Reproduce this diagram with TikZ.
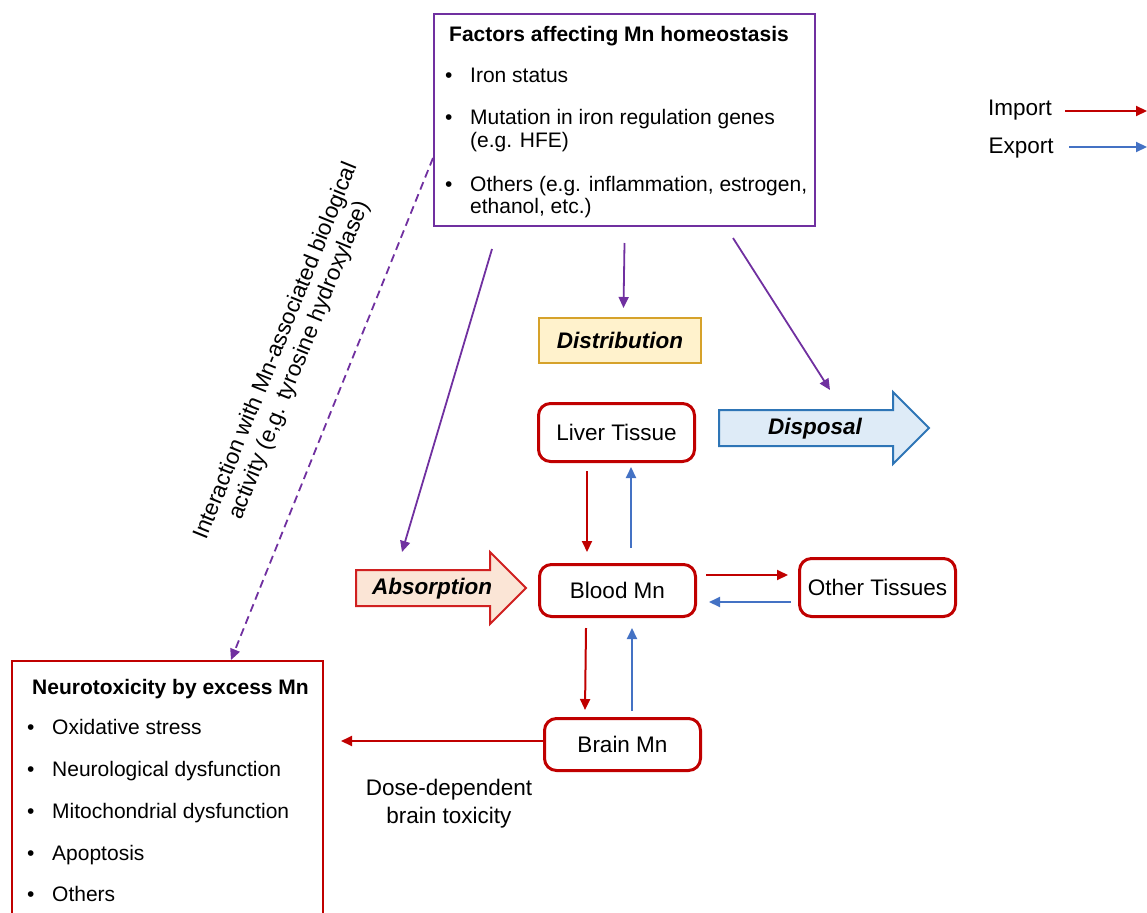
\documentclass[tikz,border=0pt]{standalone}
\usepackage{fontspec}
\setmainfont{Liberation Sans}
\usetikzlibrary{arrows.meta,shapes.arrows,calc}

\begin{document}
\begin{tikzpicture}[x=1pt,y=1pt,yscale=-1,xscale=1,
  mnhead/.style={-{Triangle[length=11pt,width=10pt]}},
  inflow/.style={mnhead, color={rgb, 255:red, 192; green, 0; blue, 0 }, line width=2pt},
  outflow/.style={mnhead, color={rgb, 255:red, 68; green, 114; blue, 196 }, line width=2pt},
  factorarrow/.style={mnhead, color={rgb, 255:red, 112; green, 48; blue, 160 }, line width=1.8pt},
  pool/.style={draw={rgb, 255:red, 192; green, 0; blue, 0 }, line width=3pt, rounded corners=12pt,
    minimum width=156pt, minimum height=52pt, font=\fontsize{22.5}{27}\selectfont},
  listtxt/.style={anchor=west, inner sep=0pt, text height=18pt, text depth=2pt, font=\fontsize{21}{25}\selectfont},
  bigarrow/.style={single arrow, single arrow head extend=18pt, line width=2pt, anchor=west,
    inner xsep=6pt, inner ysep=7pt, text height=16pt, text depth=4pt,
    font=\fontsize{22.5}{27}\selectfont\bfseries\itshape}
]
\useasboundingbox (0,0) rectangle (1147,912);

%Factors box
\node [draw={rgb, 255:red, 112; green, 48; blue, 160 }, line width=2pt, minimum width=381pt,
  minimum height=212pt, anchor=north west] (factors) at (433,13) {};
\node [font=\fontsize{21}{25}\selectfont\bfseries] (factorstitle) at (619,36) {Factors affecting Mn homeostasis};
\foreach \y in {75,117,183}
  \node [listtxt] (fb\y) at (445,\y) {\textbullet};
\node [listtxt] (iron) at (470,75) {Iron status};
\node [listtxt] (mutation) at (470,117) {Mutation in iron regulation genes};
\node [listtxt] (hfe) at (470,140) {(e.g. HFE)};
\node [listtxt] (others) at (470,183) {Others (e.g. inflammation, estrogen,};
\node [listtxt] (ethanol) at (470,205) {ethanol, etc.)};

%Legend
\node [font=\fontsize{22.5}{27}\selectfont] (importlbl) at (1020,110) {Import};
\node [font=\fontsize{22.5}{27}\selectfont] (exportlbl) at (1021,148) {Export};
\coordinate (importend) at (1147,111);
\coordinate (exportend) at (1147,147);
\draw [inflow] (importlbl.east |- importend) ++(10,0) -- (importend);
\draw [outflow] (exportlbl.east |- exportend) ++(12,0) -- (exportend);

%Distribution
\node [draw={rgb, 255:red, 214; green, 162; blue, 42 }, fill={rgb, 255:red, 255; green, 242; blue, 204 },
  line width=2pt, minimum width=162pt, minimum height=45pt,
  font=\fontsize{22.5}{27}\selectfont\bfseries\itshape] (distribution) at (620,340.5) {Distribution};

%Disposal and absorption
\node [bigarrow, draw={rgb, 255:red, 46; green, 117; blue, 182 }, fill={rgb, 255:red, 222; green, 235; blue, 247 },
  minimum height=210pt] (disposal) at (718,428) {Disposal};
\node [bigarrow, draw={rgb, 255:red, 208; green, 32; blue, 32 }, fill={rgb, 255:red, 251; green, 229; blue, 214 },
  minimum height=170pt] (absorption) at (355,588) {Absorption};

%Mn pools
\node [pool, minimum height=58pt] (liver) at (616.5,432.5) {Liver Tissue};
\node [pool] (blood) at (617.5,590.5) {Blood Mn};
\node [pool, minimum height=58pt] (other) at (877.5,587.5) {Other Tissues};
\node [pool] (brain) at (622.5,744.5) {Brain Mn};

%Neurotoxicity box
\node [draw={rgb, 255:red, 192; green, 0; blue, 0 }, line width=2pt, minimum width=311pt,
  minimum height=270pt, anchor=north west] (neuro) at (11,660) {};
\node [listtxt, font=\fontsize{21}{25}\selectfont\bfseries] (neurotitle) at (32,686) {Neurotoxicity by excess Mn};
\foreach \y in {726,768,810,852,893}
  \node [listtxt] (nb\y) at (27,\y) {\textbullet};
\node [listtxt] (oxidative) at (52,726) {Oxidative stress};
\node [listtxt] (neurological) at (52,768) {Neurological dysfunction};
\node [listtxt] (mitochondrial) at (52,810) {Mitochondrial dysfunction};
\node [listtxt] (apoptosis) at (52,852) {Apoptosis};
\node [listtxt] (othereffects) at (52,893) {Others};

%Labels
\node [align=center, font=\fontsize{22.5}{28}\selectfont] (dose) at (449,804) {Dose-dependent\\brain toxicity};
\node [rotate=68, align=center, font=\fontsize{22.5}{25}\selectfont] (interaction) at (288,356)
  {Interaction with Mn-associated biological\\activity (e,g. tyrosine hydroxylase)};

%Factor arrows
\draw [factorarrow] ([yshift=16pt]factors.south) -- ($(distribution.north)+(3.5,-9)$);
\draw [factorarrow] ([xshift=108.5pt,yshift=11pt]factors.south) -- ($(disposal.west)+(112,-38)$);
\draw [factorarrow] ([xshift=-132.5pt,yshift=22pt]factors.south) -- ($(absorption.west)+(47,-36)$);
\draw [factorarrow, dash pattern={on 8pt off 5pt}] ([yshift=38pt]factors.west) -- ([xshift=63.5pt]neuro.north);

%Liver exchange
\draw [inflow] ([xshift=-29.5pt,yshift=8pt]liver.south) -- ([xshift=-30.5pt,yshift=-11pt]blood.north);
\draw [outflow] ([xshift=13.5pt,yshift=-15pt]blood.north) -- ([xshift=14.5pt,yshift=4pt]liver.south);

%Other tissues exchange
\draw [inflow] ([xshift=9pt,yshift=-15.5pt]blood.east) -- ([xshift=-10pt,yshift=-12.5pt]other.west);
\draw [outflow] ([xshift=-7pt,yshift=14.5pt]other.west) -- ([xshift=12pt,yshift=11.5pt]blood.east);

%Brain exchange
\draw [inflow] ([xshift=-31.5pt,yshift=10pt]blood.south) -- ([xshift=-37.5pt,yshift=-7pt]brain.north);
\draw [outflow] ([xshift=9.5pt,yshift=-6pt]brain.north) -- ([xshift=14.5pt,yshift=10pt]blood.south);

%Toxicity
\draw [inflow] ([yshift=-3.5pt]brain.west) -- ($(brain.west -| neuro.east)+(17,-3.5)$);

\end{tikzpicture}
\end{document}
